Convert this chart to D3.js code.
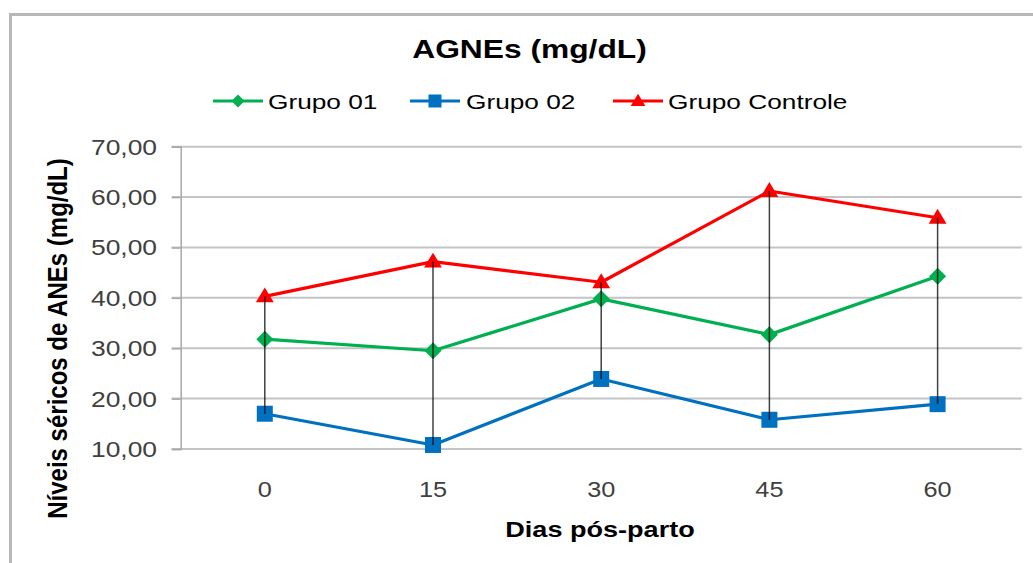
<!DOCTYPE html>
<html>
<head>
<meta charset="utf-8">
<script src="https://cdn.jsdelivr.net/npm/d3@7"></script>
<style>
  html, body { margin: 0; padding: 0; background: #fff; }
  svg { display: block; font-family: "Liberation Sans", Arial, sans-serif; }
</style>
</head>
<body>
<svg id="chart" width="1033" height="563"></svg>
<script>
// ---- data ----
const categories = ["0", "15", "30", "45", "60"];
const grupo01 = [31.8, 29.5, 39.8, 32.7, 44.3];
const grupo02 = [17.0, 10.8, 23.9, 15.8, 18.9];
const grupoControle = [40.3, 47.2, 43.1, 61.2, 55.9];
const seriesNames = ["Grupo 01", "Grupo 02", "Grupo Controle"];
const yTicks = [10, 20, 30, 40, 50, 60, 70];
const titleText = "AGNEs (mg/dL)";
const xTitle = "Dias pós-parto";
const yTitle = "Níveis séricos de ANEs (mg/dL)";

const seriesData = [grupo01, grupo02, grupoControle];
const colors = ["#00b050", "#0070c0", "#ff0000"];
const shapes = ["diamond", "square", "triangle"];

const svg = d3.select("#chart");
const plot = { left: 180.7, right: 1021.7, top: 146.7, bottom: 449 };

const x = d3.scalePoint().domain(categories).range([plot.left, plot.right]).padding(0.5);
const y = d3.scaleLinear().domain([10, 70]).range([plot.bottom, plot.top]);

const fmt = d3.formatLocale({decimal: ",", thousands: ".", grouping: [3], currency: ["", ""]}).format(".2f");

// outer frame
svg.append("rect")
  .attr("x", 10.5).attr("y", 14.5).attr("width", 1050).attr("height", 600)
  .attr("fill", "none").attr("stroke", "#b8b8b8").attr("stroke-width", 3);

// stretched text helper
function stext(g, tx, ty, txt, size, sx, opts = {}) {
  const t = g.append("text")
    .attr("transform", `translate(${tx},${ty}) scale(${sx},${opts.sy || 1})` + (opts.rotate ? ` rotate(${opts.rotate})` : ""))
    .attr("font-size", size)
    .attr("font-weight", opts.bold ? "bold" : "normal")
    .attr("fill", opts.fill || "#000")
    .attr("text-anchor", opts.anchor || "start")
    .text(txt);
  return t;
}

// gridlines
svg.append("g").selectAll("line").data(yTicks).join("line")
  .attr("x1", plot.left - 9).attr("x2", plot.right)
  .attr("y1", d => y(d)).attr("y2", d => y(d))
  .attr("stroke", "#c4c4c4").attr("stroke-width", 2);

// y axis line via d3 axis
const yAxisG = svg.append("g").attr("transform", `translate(${plot.left},0)`)
  .call(d3.axisLeft(y).tickValues(yTicks).tickSize(9).tickFormat(""));
yAxisG.select(".domain").attr("stroke", "#a8a8a8").attr("stroke-width", 1.5);
yAxisG.selectAll(".tick line").attr("stroke", "#a8a8a8").attr("stroke-width", 1.5);

// y tick labels
const ytl = svg.append("g");
yTicks.forEach(v => stext(ytl, 157, y(v) + 8, fmt(v), 22, 1.2, {anchor: "end", fill: "#404040"}));

// x tick labels
const xtl = svg.append("g");
categories.forEach(c => stext(xtl, x(c), 497, c, 22, 1.15, {anchor: "middle", fill: "#404040"}));

// series lines
const line = d3.line().x((d, i) => x(categories[i])).y(d => y(d));
seriesData.forEach((s, k) => {
  svg.append("path").datum(s).attr("d", line)
    .attr("fill", "none").attr("stroke", colors[k]).attr("stroke-width", 3.2)
    .attr("stroke-linejoin", "round");
});

// markers
function markerPath(shape, size) {
  if (shape === "diamond") return `M0,${-size}L${size},0L0,${size}L${-size},0Z`;
  if (shape === "square") return `M${-size},${-size}H${size}V${size}H${-size}Z`;
  return `M0,${-size * 1.05}L${size * 1.05},${size * 0.7}L${-size * 1.05},${size * 0.7}Z`;
}
const markerSizes = [8.5, 8, 8.5];
seriesData.forEach((s, k) => {
  svg.append("g").selectAll("path").data(s).join("path")
    .attr("transform", (d, i) => `translate(${x(categories[i])},${y(d)})`)
    .attr("d", markerPath(shapes[k], markerSizes[k]))
    .attr("fill", colors[k]);
});

// high-low lines
svg.append("g").selectAll("line").data(categories).join("line")
  .attr("x1", c => x(c)).attr("x2", c => x(c))
  .attr("y1", (c, i) => y(d3.max(seriesData, s => s[i])))
  .attr("y2", (c, i) => y(d3.min(seriesData, s => s[i])))
  .attr("stroke", "#000").attr("stroke-opacity", 0.75).attr("stroke-width", 1.5);

// title
stext(svg, 529.5, 58, titleText, 25, 1.27, {anchor: "middle", bold: true});

// legend
const legendItems = [
  {lx: 213, tx: 268},
  {lx: 410, tx: 466},
  {lx: 613, tx: 668}
];
const legSizes = [6.5, 6.5, 7];
seriesNames.forEach((name, k) => {
  const it = legendItems[k];
  svg.append("line").attr("x1", it.lx).attr("x2", it.lx + 50).attr("y1", 101).attr("y2", 101)
    .attr("stroke", colors[k]).attr("stroke-width", 3.2);
  svg.append("path").attr("transform", `translate(${it.lx + 25},101)`)
    .attr("d", markerPath(shapes[k], legSizes[k])).attr("fill", colors[k]);
  stext(svg, it.tx, 109, name, 21, 1.25, {fill: "#000"});
});

// axis titles
stext(svg, 600, 537, xTitle, 22, 1.23, {anchor: "middle", bold: true});
stext(svg, 67, 338.5, yTitle, 24, 1.15, {anchor: "middle", bold: true, rotate: -90});
</script>
</body>
</html>
